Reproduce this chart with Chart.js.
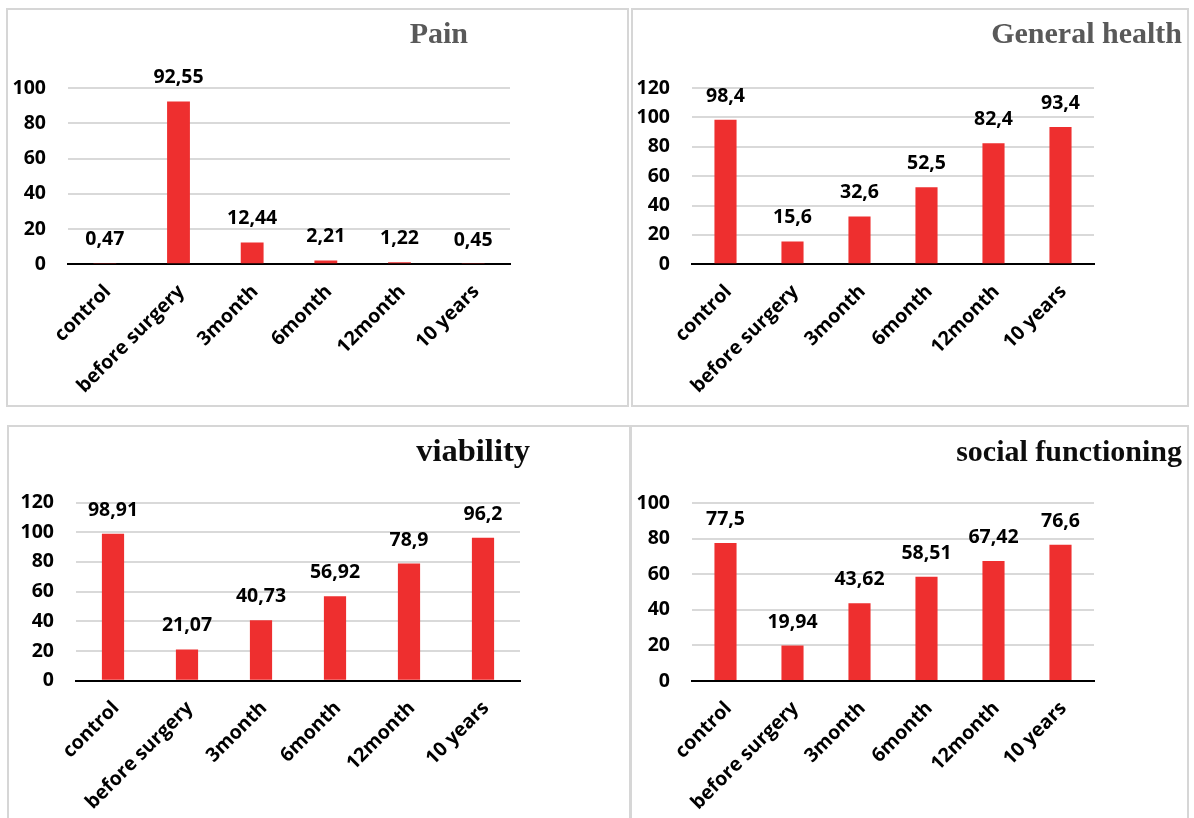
<!DOCTYPE html>
<html>
<head>
<meta charset="utf-8">
<title>SF-36 scores over follow-up</title>
<script src="https://cdn.jsdelivr.net/npm/chart.js@4.4.1/dist/chart.umd.min.js"></script>
<style>
  html, body { margin: 0; padding: 0; background: #ffffff; width: 1194px; height: 818px; overflow: hidden; }
  .panel { position: absolute; box-sizing: border-box; border: 2px solid #d6d6d6; }
  canvas { position: absolute; }
</style>
</head>
<body>
<div class="panel" style="left:6px;top:8px;width:623px;height:399px"></div>
<div class="panel" style="left:631px;top:8px;width:558px;height:399px"></div>
<div class="panel" style="left:7px;top:425px;width:624px;height:400px"></div>
<div class="panel" style="left:630px;top:425px;width:559px;height:400px"></div>

<canvas id="pain"></canvas>
<canvas id="health"></canvas>
<canvas id="viability"></canvas>
<canvas id="social"></canvas>

<script>
// Follow-up time points shared by all four panels
const categories = ['control', 'before surgery', '3month', '6month', '12month', '10 years'];

// Mean scores per time point
const painValues = [0.47, 92.55, 12.44, 2.21, 1.22, 0.45];
const generalHealthValues = [98.4, 15.6, 32.6, 52.5, 82.4, 93.4];
const viabilityValues = [98.91, 21.07, 40.73, 56.92, 78.9, 96.2];
const socialFunctioningValues = [77.5, 19.94, 43.62, 58.51, 67.42, 76.6];

// Value-axis tick labels
const ticksTo100 = [0, 20, 40, 60, 80, 100];
const ticksTo120 = [0, 20, 40, 60, 80, 100, 120];

const BAR_RED = '#ee2f2f';
const SANS = '"Open Sans", "Noto Sans", sans-serif';
const LABEL_FONT = { family: SANS, size: 19.5, weight: 'bold' };

// Writes each bar's value above it, with a decimal comma
const valueLabels = {
  id: 'valueLabels',
  afterDatasetsDraw(chart) {
    const ctx = chart.ctx;
    const meta = chart.getDatasetMeta(0);
    const data = chart.data.datasets[0].data;
    ctx.save();
    ctx.font = 'bold 19.5px ' + SANS;
    ctx.fillStyle = '#000000';
    ctx.textAlign = 'center';
    ctx.textBaseline = 'alphabetic';
    meta.data.forEach((bar, i) => {
      ctx.fillText(String(data[i]).replace('.', ','), bar.x, bar.y - 18);
    });
    ctx.restore();
  }
};

// Serif panel heading, right-aligned at a given point
const panelTitle = {
  id: 'panelTitle',
  afterDraw(chart, args, opts) {
    const ctx = chart.ctx;
    ctx.save();
    ctx.font = 'bold ' + opts.size + 'px "Liberation Serif", "Times New Roman", serif';
    ctx.fillStyle = opts.color;
    ctx.textAlign = 'right';
    ctx.textBaseline = 'alphabetic';
    ctx.fillText(opts.text, opts.x, opts.y);
    ctx.restore();
  }
};

function makeChart(id, frame, area, values, ticks, barPct, title) {
  const canvas = document.getElementById(id);
  canvas.width = frame.w;
  canvas.height = frame.h;
  canvas.style.left = frame.x + 'px';
  canvas.style.top = frame.y + 'px';
  canvas.style.width = frame.w + 'px';
  canvas.style.height = frame.h + 'px';

  const areaLeft = area.l - frame.x;
  const areaRight = area.r - frame.x;
  const areaTop = area.t - frame.y;
  const areaBottom = area.b - frame.y;

  return new Chart(canvas, {
    type: 'bar',
    data: {
      labels: categories,
      datasets: [{
        data: values,
        backgroundColor: BAR_RED,
        borderWidth: 0,
        barPercentage: barPct,
        categoryPercentage: 1
      }]
    },
    options: {
      responsive: false,
      animation: false,
      devicePixelRatio: 1,
      layout: { padding: { left: 0, top: areaTop, right: frame.w - areaRight, bottom: 0 } },
      plugins: {
        legend: { display: false },
        tooltip: { enabled: false },
        panelTitle: {
          text: title.text,
          color: title.color,
          size: title.size,
          x: title.x - frame.x,
          y: title.y - frame.y
        }
      },
      scales: {
        x: {
          grid: { display: false, drawTicks: false },
          border: { display: true, color: '#000000', width: 2 },
          ticks: {
            color: '#000000',
            font: LABEL_FONT,
            minRotation: 45,
            maxRotation: 45,
            autoSkip: false,
            padding: 16,
            labelOffset: 3
          },
          afterFit(scale) { scale.height = frame.h - areaBottom; }
        },
        y: {
          min: ticks[0],
          max: ticks[ticks.length - 1],
          ticks: {
            stepSize: ticks[1] - ticks[0],
            color: '#000000',
            font: LABEL_FONT,
            padding: 22
          },
          grid: { color: '#d9d9d9', lineWidth: 2, drawTicks: false },
          border: { display: false },
          afterFit(scale) { scale.width = areaLeft; }
        }
      }
    },
    plugins: [valueLabels, panelTitle]
  });
}

makeChart('pain',
  { x: 6, y: 8, w: 623, h: 399 },
  { l: 68, r: 510, t: 88.3, b: 264.3 },
  painValues, ticksTo100, 0.31,
  { text: 'Pain', color: '#595959', size: 30, x: 468, y: 43 });

makeChart('health',
  { x: 631, y: 8, w: 558, h: 399 },
  { l: 692, r: 1094, t: 88, b: 264.3 },
  generalHealthValues, ticksTo120, 0.33,
  { text: 'General health', color: '#595959', size: 30, x: 1182, y: 43 });

makeChart('viability',
  { x: 7, y: 425, w: 624, h: 393 },
  { l: 76, r: 520, t: 502.5, b: 680.7 },
  viabilityValues, ticksTo120, 0.30,
  { text: 'viability', color: '#0d0d0d', size: 32.5, x: 530, y: 461 });

makeChart('social',
  { x: 630, y: 425, w: 559, h: 393 },
  { l: 692, r: 1094, t: 503, b: 681 },
  socialFunctioningValues, ticksTo100, 0.33,
  { text: 'social functioning', color: '#0d0d0d', size: 30, x: 1182, y: 461 });
</script>
</body>
</html>
